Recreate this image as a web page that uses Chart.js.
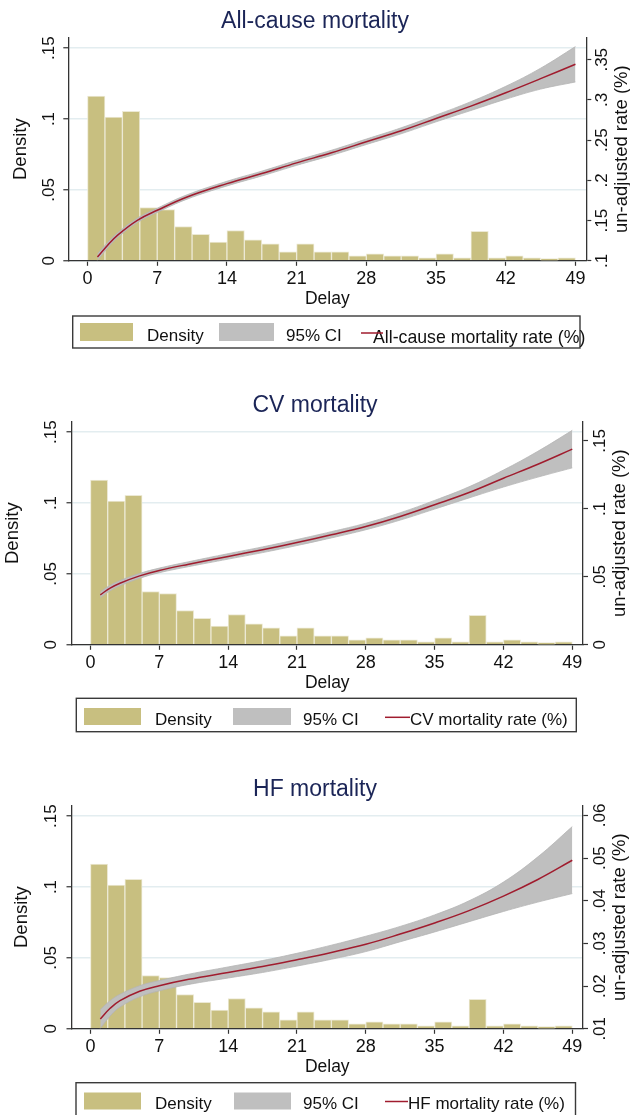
<!DOCTYPE html>
<html><head><meta charset="utf-8">
<script src="https://cdn.jsdelivr.net/npm/chart.js@4.4.1/dist/chart.umd.min.js"></script>
<style>
html,body{margin:0;padding:0;background:#fff;overflow:hidden;width:630px;height:1115px;}
.panel{position:absolute;left:0;width:630px;height:384px;}
canvas{display:block;}
</style></head><body>
<div class="panel" style="top:0px"><canvas id="c1" width="630" height="384"></canvas></div>
<div class="panel" style="top:384px"><canvas id="c2" width="630" height="384"></canvas></div>
<div class="panel" style="top:768px"><canvas id="c3" width="630" height="384"></canvas></div>
<script>
// ---------- DATA ----------
const binCenters = [0.875, 2.625, 4.375, 6.125, 7.875, 9.625, 11.375, 13.125, 14.875, 16.625, 18.375, 20.125, 21.875, 23.625, 25.375, 27.125, 28.875, 30.625, 32.375, 34.125, 35.875, 37.625, 39.375, 41.125, 42.875, 44.625, 46.375, 48.125];
const density = [0.1161, 0.1013, 0.1055, 0.0376, 0.0362, 0.0242, 0.0186, 0.0132, 0.0214, 0.0148, 0.0120, 0.0063, 0.0120, 0.0063, 0.0063, 0.0035, 0.0050, 0.0035, 0.0035, 0.0021, 0.0050, 0.0021, 0.0208, 0.0021, 0.0035, 0.0021, 0.0016, 0.0021];

const curveX = [1, 2, 3, 5, 7, 10, 14, 17.5, 21, 24.5, 28, 31.5, 35, 38.5, 42, 45.5, 49];

const allRate  = [0.1046, 0.1190, 0.1316, 0.1503, 0.1628, 0.1794, 0.1960, 0.2085, 0.2218, 0.2343, 0.2480, 0.2617, 0.2770, 0.2924, 0.3090, 0.3265, 0.3444];
const allUpper = [0.1086, 0.1225, 0.1346, 0.1530, 0.1654, 0.1821, 0.1989, 0.2115, 0.2249, 0.2375, 0.2514, 0.2654, 0.2812, 0.2979, 0.3170, 0.3395, 0.3664];
const allLower = [0.1006, 0.1155, 0.1286, 0.1476, 0.1602, 0.1767, 0.1931, 0.2055, 0.2187, 0.2311, 0.2446, 0.2580, 0.2728, 0.2869, 0.3010, 0.3135, 0.3224];

const cvRate  = [0.0368, 0.0417, 0.0453, 0.0507, 0.0547, 0.0593, 0.0650, 0.0699, 0.0752, 0.0809, 0.0870, 0.0944, 0.1030, 0.1120, 0.1225, 0.1328, 0.1439];
const cvUpper = [0.0390, 0.0437, 0.0472, 0.0525, 0.0564, 0.0611, 0.0670, 0.0720, 0.0774, 0.0832, 0.0894, 0.0971, 0.1062, 0.1162, 0.1285, 0.1423, 0.1577];
const cvLower = [0.0346, 0.0397, 0.0434, 0.0489, 0.0530, 0.0575, 0.0630, 0.0678, 0.0730, 0.0786, 0.0846, 0.0917, 0.0998, 0.1080, 0.1160, 0.1233, 0.1301];

const hfRate  = [0.0123, 0.0148, 0.0166, 0.0188, 0.0201, 0.0216, 0.0232, 0.0246, 0.0262, 0.0279, 0.0298, 0.0322, 0.0348, 0.0377, 0.0411, 0.0450, 0.0495];
const hfUpper = [0.0145, 0.0166, 0.0181, 0.0201, 0.0213, 0.0228, 0.0245, 0.0260, 0.0277, 0.0296, 0.0317, 0.0340, 0.0367, 0.0400, 0.0444, 0.0503, 0.0574];
const hfLower = [0.0101, 0.0130, 0.0151, 0.0175, 0.0189, 0.0204, 0.0219, 0.0232, 0.0247, 0.0263, 0.0281, 0.0304, 0.0327, 0.0351, 0.0375, 0.0397, 0.0417];

const xTicks = [0, 7, 14, 21, 28, 35, 42, 49];
const densityTicks = [0, 0.05, 0.1, 0.15];
const densityTickLabels = ['0', '.05', '.1', '.15'];
const allTicks = [0.1, 0.15, 0.2, 0.25, 0.3, 0.35];
const allTickLabels = ['.1', '.15', '.2', '.25', '.3', '.35'];
const cvTicks = [0, 0.05, 0.1, 0.15];
const cvTickLabels = ['0', '.05', '.1', '.15'];
const hfTicks = [0.01, 0.02, 0.03, 0.04, 0.05, 0.06];
const hfTickLabels = ['.01', '.02', '.03', '.04', '.05', '.06'];

const titles = ['All-cause mortality', 'CV mortality', 'HF mortality'];
const rateLabels = ['All-cause mortality rate (%)', 'CV mortality rate (%)', 'HF mortality rate (%)'];

// ---------- STYLE / LAYOUT ----------
const FONT = '"Liberation Sans", Arial, Helvetica, sans-serif';
Chart.defaults.font.family = FONT;
const C = {
  bar: '#c8bf80', barEdge: '#ece9d4', ci: '#bfbfbf', ciEdge: '#b5b5b5',
  red: '#a01c2e', axis: '#333333', grid: '#e3edf0', title: '#1b2557', text: '#111111'
};

const panels = [
  { id: 'c1', title: titles[0], rate: allRate, up: allUpper, lo: allLower, rTicks: allTicks, rLabels: allTickLabels,
    rMin: 0.1, rMax: 0.3777, left: 68.3, right: 586.3, lTickX: 49, lTitleX: 21, rTickX: 602, rTitleX: 622,
    leg: { box: [72.7, 316, 580, 348], sw1: [80, 323, 133, 341], t1: 147, sw2: [219, 323, 274, 341], t2: 286,
           line: [361, 383, 333], t3: 373, t3size: 17.7, t3base: 342.5, base: 340.5, label: rateLabels[0] } },
  { id: 'c2', title: titles[1], rate: cvRate, up: cvUpper, lo: cvLower, rTicks: cvTicks, rLabels: cvTickLabels,
    rMin: 0, rMax: 0.1642, left: 71.5, right: 583, lTickX: 51, lTitleX: 13, rTickX: 600, rTitleX: 620,
    leg: { box: [76.3, 314.3, 576.3, 347.7], sw1: [84, 324, 141, 341], t1: 155, sw2: [233, 324, 291, 341], t2: 303,
           line: [385, 410, 333.3], t3: 410, t3size: 17, t3base: 340.5, base: 340.5, label: rateLabels[1] } },
  { id: 'c3', title: titles[2], rate: hfRate, up: hfUpper, lo: hfLower, rTicks: hfTicks, rLabels: hfTickLabels,
    rMin: 0.01, rMax: 0.06234, left: 71.5, right: 583, lTickX: 51, lTitleX: 22, rTickX: 600.5, rTitleX: 620,
    leg: { box: [76, 314.7, 575.5, 348], sw1: [84, 324.5, 141, 341.5], t1: 155, sw2: [234, 324.5, 291, 341.5], t2: 303,
           line: [385, 408, 333.5], t3: 408, t3size: 17, t3base: 341, base: 341, label: rateLabels[2] } }
];

const W = 630, H = 384;
const PLOT_BOTTOM = 260.8, XAXIS_BOTTOM = 309.5;

function rotText(ctx, txt, x, y) {
  ctx.save(); ctx.translate(x, y); ctx.rotate(-Math.PI / 2); ctx.fillText(txt, 0, 0); ctx.restore();
}

function decoPlugin(p) {
  return {
    id: 'stataDeco',
    afterDraw(chart) {
      const ctx = chart.ctx, ca = chart.chartArea;
      const yL = chart.scales.y, yR = chart.scales.y2;
      ctx.save();
      ctx.fillStyle = C.text;
      ctx.textAlign = 'center'; ctx.textBaseline = 'middle';
      ctx.font = '17px ' + FONT;
      densityTicks.forEach((v, i) => rotText(ctx, densityTickLabels[i], p.lTickX, yL.getPixelForValue(v)));
      p.rTicks.forEach((v, i) => rotText(ctx, p.rLabels[i], p.rTickX, yR.getPixelForValue(v)));
      ctx.font = '18.5px ' + FONT;
      const cy = (ca.top + ca.bottom) / 2;
      rotText(ctx, 'Density', p.lTitleX, cy);
      rotText(ctx, 'un-adjusted rate (%)', p.rTitleX, cy);

      // legend
      const L = p.leg;
      ctx.fillStyle = C.bar;
      ctx.fillRect(L.sw1[0], L.sw1[1], L.sw1[2] - L.sw1[0], L.sw1[3] - L.sw1[1]);
      ctx.fillStyle = C.ci;
      ctx.fillRect(L.sw2[0], L.sw2[1], L.sw2[2] - L.sw2[0], L.sw2[3] - L.sw2[1]);
      ctx.strokeStyle = '#3a3a3a'; ctx.lineWidth = 1.4;
      ctx.strokeRect(L.box[0], L.box[1], L.box[2] - L.box[0], L.box[3] - L.box[1]);
      ctx.fillStyle = C.text; ctx.textAlign = 'left'; ctx.textBaseline = 'alphabetic';
      ctx.font = '17px ' + FONT;
      ctx.fillText('Density', L.t1, L.base);
      ctx.fillText('95% CI', L.t2, L.base);
      ctx.font = L.t3size + 'px ' + FONT;
      ctx.fillText(L.label, L.t3, L.t3base);
      ctx.strokeStyle = C.red; ctx.lineWidth = 1.5;
      ctx.beginPath(); ctx.moveTo(L.line[0], L.line[2]); ctx.lineTo(L.line[1], L.line[2]); ctx.stroke();
      ctx.restore();
    }
  };
}

panels.forEach(p => {
  const pts = arr => curveX.map((x, i) => ({ x: x, y: arr[i] }));
  new Chart(document.getElementById(p.id), {
    type: 'bar',
    data: {
      datasets: [
        { type: 'bar', label: 'Density', data: binCenters.map((x, i) => ({ x: x, y: density[i] })), yAxisID: 'y',
          backgroundColor: C.bar, borderColor: C.barEdge, borderWidth: 1, barPercentage: 1, categoryPercentage: 1,
          grouped: false, order: 10 },
        { type: 'line', label: '95% CI', data: pts(p.up), yAxisID: 'y2', borderColor: C.ciEdge, borderWidth: 0.8,
          backgroundColor: C.ci, fill: '+1', pointRadius: 0, tension: 0.4, order: 5 },
        { type: 'line', label: 'lower', data: pts(p.lo), yAxisID: 'y2', borderColor: C.ciEdge, borderWidth: 0.8,
          fill: false, pointRadius: 0, tension: 0.4, order: 4 },
        { type: 'line', label: p.leg.label, data: pts(p.rate), yAxisID: 'y2', borderColor: C.red, borderWidth: 1.5,
          fill: false, pointRadius: 0, tension: 0.4, order: 1 }
      ]
    },
    options: {
      responsive: false, animation: false, devicePixelRatio: 1,
      layout: { padding: { left: 0, right: 0, top: 0, bottom: H - XAXIS_BOTTOM } },
      plugins: {
        legend: { display: false }, tooltip: { enabled: false },
        title: { display: true, text: p.title, color: C.title, font: { size: 23, weight: 'normal', family: FONT },
                 padding: { top: 8, bottom: 1.9 } }
      },
      scales: {
        x: {
          type: 'linear', min: -1.93, max: 50.09, offset: false,
          afterBuildTicks: s => { s.ticks = xTicks.map(v => ({ value: v })); },
          afterFit: s => { s.height = XAXIS_BOTTOM - PLOT_BOTTOM; },
          ticks: { color: C.text, font: { size: 18 }, padding: 2, maxRotation: 0, minRotation: 0, callback: v => String(v) },
          grid: { drawOnChartArea: false, drawTicks: true, tickLength: 5, tickColor: C.axis, tickWidth: 1.2, offset: false },
          border: { display: true, color: C.axis, width: 1.3 },
          title: { display: true, text: 'Delay', color: C.text, font: { size: 17.5 }, padding: 0 }
        },
        y: {
          type: 'linear', position: 'left', min: 0, max: 0.1575,
          afterBuildTicks: s => { s.ticks = densityTicks.map(v => ({ value: v })); },
          afterFit: s => { s.width = p.left; },
          ticks: { display: false },
          grid: { drawOnChartArea: true, color: C.grid, lineWidth: 1.5, drawTicks: true, tickLength: 5, tickColor: C.axis, tickWidth: 1.2 },
          border: { display: true, color: C.axis, width: 1.3 }
        },
        y2: {
          type: 'linear', position: 'right', min: p.rMin, max: p.rMax,
          afterBuildTicks: s => { s.ticks = p.rTicks.map(v => ({ value: v })); },
          afterFit: s => { s.width = W - p.right; },
          ticks: { display: false },
          grid: { drawOnChartArea: false, drawTicks: true, tickLength: 5, tickColor: C.axis, tickWidth: 1.2 },
          border: { display: true, color: C.axis, width: 1.3 }
        }
      }
    },
    plugins: [decoPlugin(p)]
  });
});
</script>
</body></html>
